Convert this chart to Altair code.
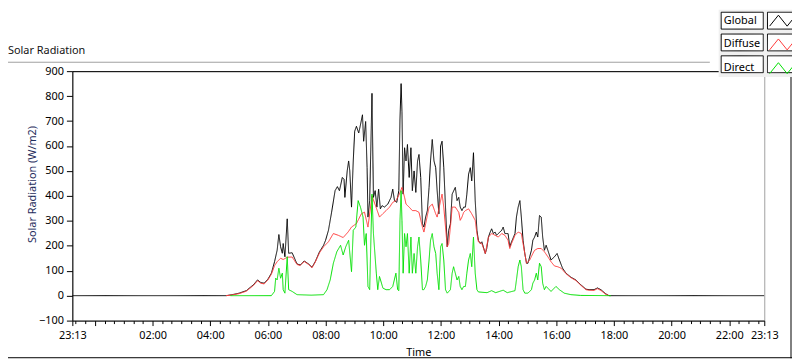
import altair as alt
import pandas as pd

FONT = "Noto Sans"
SERIES = ["Global", "Diffuse", "Direct"]
COLORS = ["#000000", "#ff3b3b", "#00e000"]
BOXES = ["box-g", "box-d", "box-b"]
X_START = -47 / 60          # 23:13 of the previous evening
X_END = 23 + 13 / 60        # 23:13

# Global radiation (hours after midnight, W/m2)
G_T = [-0.7833, 4.55, 4.76, 5.00, 5.25, 5.50, 5.64, 5.75, 5.87, 6.00, 6.12, 6.23, 6.32, 6.38, 6.44,
       6.50, 6.53, 6.59, 6.67, 6.72, 6.84, 7.01, 7.12, 7.26, 7.41, 7.53, 7.64, 7.79, 7.93, 8.00,
       8.10, 8.21, 8.33, 8.41, 8.48, 8.52, 8.58, 8.64, 8.67, 8.75, 8.80, 8.84, 8.90, 8.96, 9.01,
       9.07, 9.15, 9.21, 9.28, 9.32, 9.39, 9.44, 9.47, 9.53, 9.61, 9.66, 9.72, 9.78, 9.84, 9.90,
       9.96, 10.04, 10.16, 10.27, 10.33, 10.39, 10.47, 10.54, 10.58, 10.62, 10.65, 10.69, 10.74,
       10.79, 10.84, 10.90, 10.96, 11.01, 11.07, 11.13, 11.19, 11.24, 11.30, 11.36, 11.41, 11.47,
       11.53, 11.59, 11.64, 11.70, 11.76, 11.82, 11.87, 11.93, 11.99, 12.04, 12.10, 12.16, 12.22,
       12.27, 12.33, 12.39, 12.50, 12.56, 12.62, 12.67, 12.73, 12.79, 12.85, 12.90, 12.96, 13.02,
       13.07, 13.13, 13.19, 13.25, 13.30, 13.36, 13.42, 13.47, 13.54, 13.59, 13.65, 13.71, 13.76,
       13.82, 13.88, 13.93, 13.99, 14.11, 14.16, 14.22, 14.33, 14.39, 14.45, 14.57, 14.62, 14.68,
       14.74, 14.79, 14.85, 14.91, 14.97, 15.02, 15.08, 15.14, 15.19, 15.25, 15.31, 15.36, 15.42,
       15.48, 15.53, 15.59, 15.65, 15.71, 15.82, 15.94, 16.03, 16.11, 16.22, 16.34, 16.51, 16.68,
       16.85, 17.03, 17.14, 17.31, 17.43, 17.55, 17.71, 17.83, 23.2167]
G_V = [0, 0, 4, 10, 20, 44, 63, 53, 50, 66, 90, 136, 182, 245, 196,
       170, 209, 156, 308, 170, 172, 127, 123, 139, 127, 114, 136, 176, 202, 222,
       262, 335, 421, 437, 421, 441, 474, 467, 394, 500, 540, 500, 355, 540, 659,
       679, 652, 685, 725, 619, 698, 513, 315, 381, 811, 394, 421, 355, 427, 348,
       361, 355, 367, 394, 427, 381, 374, 421, 705, 850, 738, 407, 593,
       540, 606, 474, 593, 421, 500, 414, 540, 566, 474, 288, 275, 315,
       341, 434, 540, 626, 540, 513, 421, 328, 600, 619, 513, 355, 196,
       262, 288, 407, 434, 381, 394, 355, 341, 355, 355, 407, 487, 513,
       460, 573, 381, 262, 222, 209, 216, 196, 169, 189, 235, 255, 268,
       249, 255, 242, 249, 262, 275, 249, 249, 196, 216, 249, 315, 355,
       381, 315, 222, 169, 130, 130, 156, 182, 222, 235, 255, 235, 321,
       315, 235, 182, 202, 182, 143, 156, 169, 143, 110, 90, 74, 63,
       44, 26, 24, 24, 31, 24, 8, 0, 0]

# Diffuse radiation
D_T = [4.55, 4.76, 5.00, 5.25, 5.50, 5.64, 5.75, 5.87, 6.00, 6.12, 6.23, 6.32, 6.44, 6.53, 6.67,
       6.84, 7.01, 7.12, 7.26, 7.41, 7.53, 7.64, 7.79, 7.93, 8.10, 8.27, 8.44, 8.61, 8.78, 8.90,
       9.07, 9.24, 9.35, 9.47, 9.61, 9.75, 9.87, 9.98, 10.10, 10.22, 10.33, 10.44, 10.56, 10.65,
       10.74, 10.79, 10.90, 11.01, 11.13, 11.24, 11.36, 11.41, 11.47, 11.59, 11.70, 11.82, 11.87,
       11.99, 12.04, 12.10, 12.16, 12.22, 12.27, 12.33, 12.39, 12.50, 12.62, 12.67, 12.73, 12.79,
       12.85, 12.96, 13.07, 13.19, 13.25, 13.30, 13.42, 13.54, 13.65, 13.76, 13.88, 13.99, 14.11,
       14.22, 14.33, 14.39, 14.45, 14.57, 14.68, 14.79, 14.85, 14.91, 14.97, 15.08, 15.19, 15.25,
       15.36, 15.48, 15.59, 15.71, 15.82, 15.94, 16.05, 16.17, 16.34, 16.51, 16.68, 16.85, 17.03,
       17.14, 17.31, 17.43, 17.55, 17.71, 17.83]
D_V = [0, 3, 8, 18, 41, 60, 50, 47, 63, 86, 120, 136, 150, 145, 154,
       155, 125, 121, 137, 125, 112, 134, 172, 196, 216, 249, 242, 233, 255, 275,
       289, 328, 335, 275, 400, 355, 315, 328, 341, 355, 374, 381, 407, 434,
       394, 367, 355, 341, 341, 334, 275, 255, 288, 355, 367, 328, 315,
       381, 407, 355, 275, 196, 209, 275, 355, 355, 334, 302, 315, 334,
       341, 348, 328, 302, 249, 216, 209, 169, 235, 249, 242, 235, 249,
       242, 222, 189, 209, 242, 255, 249, 209, 169, 130, 143, 169, 182,
       189, 189, 176, 156, 136, 119, 116, 110, 88, 72, 61, 42, 24,
       22, 21, 28, 21, 6, 0]

# Direct radiation
B_T = [4.70, 6.12, 6.23, 6.27, 6.32, 6.38, 6.44, 6.50, 6.53, 6.59, 6.67, 6.72, 6.84, 7.01, 7.50,
       7.93, 8.05, 8.16, 8.27, 8.39, 8.52, 8.61, 8.70, 8.80, 8.90, 8.96, 9.05, 9.13, 9.21, 9.30,
       9.35, 9.41, 9.47, 9.53, 9.61, 9.66, 9.76, 9.81, 9.87, 9.99, 10.10, 10.22, 10.33, 10.44,
       10.50, 10.54, 10.58, 10.62, 10.65, 10.69, 10.74, 10.79, 10.84, 10.90, 10.96, 11.01, 11.07,
       11.13, 11.19, 11.24, 11.30, 11.36, 11.41, 11.47, 11.53, 11.59, 11.64, 11.70, 11.76, 11.82,
       11.87, 11.93, 11.99, 12.04, 12.10, 12.16, 12.22, 12.33, 12.39, 12.44, 12.50, 12.56, 12.62,
       12.67, 12.73, 12.79, 12.85, 12.90, 12.96, 13.02, 13.07, 13.13, 13.19, 13.25, 13.30, 13.60,
       13.76, 13.90, 14.16, 14.30, 14.57, 14.62, 14.68, 14.74, 14.79, 14.85, 14.91, 15.02, 15.14,
       15.19, 15.25, 15.31, 15.36, 15.42, 15.48, 15.53, 15.59, 15.65, 15.71, 15.82, 15.99, 16.11,
       16.28, 16.51, 16.85, 17.90]
B_V = [0, 0, 17, 70, 63, 110, 70, 90, 24, 10, 156, 24, 17, 4, 2,
       4, 24, 63, 130, 176, 202, 163, 196, 222, 96, 262, 275, 381, 355, 315,
       202, 249, 37, 24, 407, 249, 90, 24, 77, 30, 24, 24, 37, 90,
       24, 20, 300, 421, 300, 90, 249, 196, 249, 90, 235, 90, 169,
       90, 196, 235, 143, 24, 24, 37, 63, 143, 222, 249, 196, 169,
       90, 24, 196, 209, 143, 24, 10, 24, 90, 116, 90, 63, 77,
       37, 24, 37, 37, 90, 143, 169, 116, 235, 90, 24, 15, 12,
       20, 12, 22, 12, 20, 63, 116, 143, 116, 24, 10, 10, 24,
       50, 63, 90, 63, 130, 116, 50, 24, 37, 30, 17, 37, 24,
       10, 4, 1, 0]

MAJOR = [X_START] + list(range(0, 24, 2)) + [X_END]
MINOR = [k / 3 for k in range(-2, 70) if k % 6 != 0]
Y_TICKS = list(range(-100, 901, 100))


def frame(t, v, name, box):
    return pd.DataFrame({"t": t, "v": v, "series": name, "box": box})


ZIG = "M-7.38,-1.06M1.88,1.06M-1.57,0.65L-0.52,-0.65L0.52,0.65L1.57,-0.65"
BOX = "M-7.32,-1H-2.32V1H-7.32Z M-1.82,-1H1.82V1H-1.82Z"

common_leg = dict(orient="none", legendX=652.9, legendY=-62, title=None, symbolSize=289,
                  symbolStrokeWidth=1, padding=2, rowPadding=0, symbolOffset=53.8,
                  labelOffset={"expr": "-68.6"}, labelFont=FONT, labelFontSize=11,
                  labelColor="black")
leg_a = alt.Legend(symbolType=ZIG, symbolFillColor="transparent", zindex=2, **common_leg)
leg_b = alt.Legend(symbolType=BOX, symbolFillColor="white", symbolStrokeColor="black",
                   labelExpr="''", fillColor="#f0f0f0", zindex=1, **common_leg)

color = alt.Color("series:N", scale=alt.Scale(domain=SERIES, range=COLORS), legend=leg_a)
dash = alt.StrokeDash("box:N", scale=alt.Scale(domain=BOXES, range=[[1, 0]] * 3), legend=leg_b)

xscale = alt.Scale(domain=[X_START, X_END], nice=False, zero=False)
yscale = alt.Scale(domain=[-100, 900], nice=False, zero=False)

LABEL_EXPR = ("datum.value == 0 ? '' : format(floor(((datum.value % 24) + 24) % 24 + 0.000001), '02d')"
              " + ':' + format(round(((((datum.value % 24) + 24) % 24) % 1) * 60), '02d')")

ax_major = alt.Axis(orient="bottom", values=MAJOR, labelExpr=LABEL_EXPR, tickSize=5,
                    labelPadding=13, labelBaseline="alphabetic", labelFlush=False,
                    labelOverlap=False, title="Time", titleFontWeight="normal",
                    titleFontSize=11, titleColor="black", titleY=35,
                    titleBaseline="alphabetic", grid=False)
ax_minor = alt.Axis(orient="bottom", values=MINOR, labels=False, domain=False, tickSize=3,
                    title=None, grid=False)
ax_top = alt.Axis(orient="top", ticks=False, labels=False, domain=True, title=None, grid=False)

yaxis = alt.Axis(values=Y_TICKS, tickSize=6, labelPadding=3, title="Solar Radiation (W/m2)",
                 titleColor="#1f2d5c", titleFontSize=11, titleFontWeight="normal",
                 titleX=-37, titleY=114, titleBaseline="alphabetic", grid=False)


def series_layer(df, axis):
    return alt.Chart(df).mark_line(strokeWidth=1, clip=True).encode(
        x=alt.X("t:Q", scale=xscale, axis=axis),
        y=alt.Y("v:Q", scale=yscale, axis=yaxis),
        color=color,
        strokeDash=dash,
    )


l_g = series_layer(frame(G_T, G_V, "Global", "box-g"), ax_major)
l_d = series_layer(frame(D_T, D_V, "Diffuse", "box-d"), ax_minor)
l_b = series_layer(frame(B_T, B_V, "Direct", "box-b"), ax_top)

one = alt.Data(values=[{}])
rule_top = alt.Chart(one).mark_rule(color="#a0a0a0", strokeWidth=1).encode(
    x=alt.value(-65), x2=alt.value(644), y=alt.value(-9))
rule_bottom = alt.Chart(one).mark_rule(color="black", strokeWidth=1).encode(
    x=alt.value(-65), x2=alt.value(727), y=alt.value(289.5))
rule_right = alt.Chart(one).mark_rule(color="black", strokeWidth=1).encode(
    x=alt.value(726), y=alt.value(2), y2=alt.value(290))

chart = (
    alt.layer(rule_top, rule_bottom, rule_right, l_g, l_d, l_b)
    .resolve_axis(x="independent")
    .resolve_scale(x="shared", y="shared")
    .properties(
        width=699,
        height=252,
        autosize=alt.AutoSizeParams(type="none"),
        padding={"left": 65, "top": 62, "right": 28, "bottom": 39},
        background="white",
        title=alt.TitleParams("Solar Radiation", anchor="start", frame="group", dx=-65,
                              dy=56, offset=0, baseline="alphabetic", fontSize=11,
                              fontWeight="normal", font=FONT, color="#111111"),
    )
    .configure_view(stroke="#a0a0a0", strokeWidth=1)
    .configure_axis(labelFont=FONT, labelFontSize=11, labelColor="black", tickColor="black",
                    domainColor="black", titleFont=FONT, grid=False)
)

chart.save("out.html", embed_options={"renderer": "svg", "actions": False})
